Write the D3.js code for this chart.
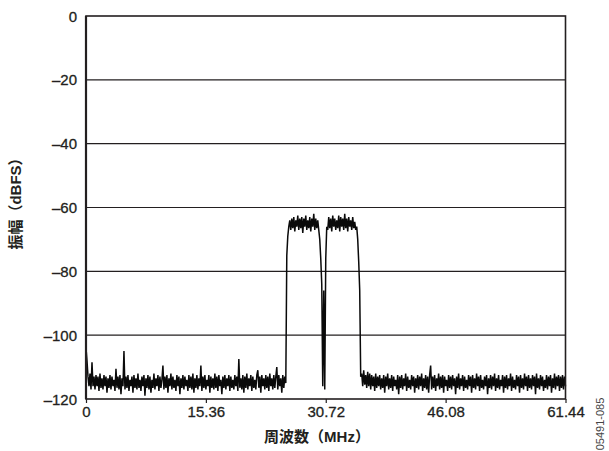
<!DOCTYPE html>
<html>
<head>
<meta charset="utf-8">
<script src="https://cdn.jsdelivr.net/npm/d3@7"></script>
<style>
  body { margin: 0; background: #fff; }
  text { fill: #231f20; }
</style>
</head>
<body>
<svg id="chart"></svg>
<script>
// axis ticks
var xTicks = [0, 15.36, 30.72, 46.08, 61.44];
var xTickLabels = ["0", "15.36", "30.72", "46.08", "61.44"];
var yTicks = [0, -20, -40, -60, -80, -100, -120];
var yTickLabels = ["0", "–20", "–40", "–60", "–80", "–100", "–120"];

// FFT bin width (MHz) and where each piece of the trace starts
var binMHz = 0.128;
var noiseLeftStart = 0;
var bandsStart = 25.728;
var noiseRightStart = 35.328;

// dBFS, one bin at a time
var noiseLeft = [
  -104, -108, -113, -116, -112, -117, -108.5, -116, -113, -117,
  -112.5, -116, -113, -117.5, -112, -116.5, -113.5, -117, -112.5, -116,
  -113, -118, -113.5, -116.5, -112.5, -117, -113, -116, -114, -117.5,
  -110.5, -116.5, -113, -117, -112.5, -118.5, -113.5, -116, -105, -117,
  -113, -116.5, -112.5, -117.5, -114, -116, -113, -118, -112.5, -116.5,
  -113.5, -117, -112, -116.5, -114, -117.5, -113, -116, -112.5, -119,
  -113.5, -116.5, -112.5, -117, -113, -118, -114, -116.5, -112, -117,
  -113.5, -116, -112.5, -117.5, -113, -116.5, -114, -109.5, -117, -113,
  -116.5, -112.5, -118, -113.5, -116, -112, -117, -113, -116.5, -114,
  -117.5, -112.5, -116, -113, -118.5, -113.5, -116.5, -112.5, -117, -113,
  -116, -114, -117.5, -112.5, -116.5, -113, -117, -112, -118, -113.5,
  -116.5, -112.5, -117, -113.5, -116, -109.5, -117.5, -113, -116.5, -112.5,
  -117, -114, -116, -112.5, -118, -113, -116.5, -113.5, -117, -112,
  -116.5, -113, -117.5, -112.5, -116, -114, -118.5, -113, -116.5, -112.5,
  -117, -113.5, -116, -112.5, -117.5, -113, -116.5, -114, -117, -112.5,
  -116, -113, -117.5, -107.5, -116.5, -113.5, -117, -112.5, -118, -113,
  -116.5, -112, -117, -113.5, -116, -112.5, -117.5, -113, -116.5, -114,
  -117, -112.5, -111, -116.5, -113, -118, -112.5, -116, -113.5, -117,
  -112.5, -116.5, -113, -117.5, -112, -116, -113.5, -117, -112.5, -116.5,
  -113, -110, -117, -112.5, -116, -113.5, -118, -112.5, -116.5, -113,
  -115
];

var bands = [
  -75, -69, -66, -64,
  -67, -63.5, -66.5, -63, -67.5, -64, -66, -62.5, -67, -63.5,
  -66.5, -63, -68, -63.5, -66, -62.5, -67, -64, -66.5, -63,
  -67.5, -63.5, -66, -62, -67, -63.5, -66.5, -64,
  -67, -70, -76, -84, -116, -86, -117, -76, -66,
  -67, -63, -66.5, -63.5, -67.5, -62.5, -66, -63.5, -67, -64,
  -66.5, -62.5, -67.5, -63, -66, -63.5, -67, -62, -66.5, -63.5,
  -67.5, -63, -66, -64, -67, -63, -66.5, -64.5, -67,
  -66, -70, -77, -86, -113
];

var noiseRight = [
  -112, -116, -111, -115.5, -112.5, -116.5, -111.5, -116, -112, -117,
  -112.5, -116, -113, -117.5, -112, -116.5, -113, -116, -112.5, -117,
  -113.5, -116.5, -112.5, -118, -113, -116, -112, -117, -113.5, -116.5,
  -112.5, -117.5, -113, -116, -114, -117, -112.5, -118.5, -113, -116.5,
  -112.5, -117, -113.5, -116, -112, -117.5, -113, -116.5, -114, -117,
  -112.5, -116, -113, -118, -113.5, -116.5, -112.5, -117, -113, -116,
  -112, -117.5, -113.5, -116.5, -112.5, -117, -113, -118, -112.5, -109.5,
  -117, -113, -116.5, -112.5, -117.5, -113.5, -116, -112, -117, -113,
  -116.5, -112.5, -118, -113, -116, -114, -117.5, -112.5, -116.5, -113,
  -117, -112.5, -116, -113.5, -118.5, -113, -116.5, -112, -117, -113.5,
  -116, -112.5, -117.5, -113, -116.5, -114, -117, -112.5, -116, -113,
  -118, -112.5, -116.5, -113.5, -117, -112, -116, -113, -117.5, -112.5,
  -116.5, -114, -117, -113, -116, -112.5, -118.5, -113.5, -116.5, -112.5,
  -117, -113, -116, -112, -117.5, -113.5, -116.5, -112.5, -117, -114,
  -116, -112.5, -118, -113, -116.5, -112.5, -117, -113.5, -116, -112,
  -117.5, -113, -116.5, -114, -117, -112.5, -116, -113, -118, -112.5,
  -116.5, -113.5, -117, -112, -116, -113, -117.5, -112.5, -116.5, -113.5,
  -117, -112.5, -116, -113, -118.5, -112, -116.5, -113.5, -117, -112.5,
  -116, -113, -117.5, -114, -116.5, -112.5, -117, -113, -116, -112.5,
  -118, -113.5, -116.5, -112, -117, -113, -116, -112.5, -117.5, -113,
  -116.5, -112.5, -117, -113, -116
];

var svgWidth = 609;
var svgHeight = 451;
var plotLeft = 86, plotRight = 565.5, plotTop = 16, plotBottom = 399;
var ink = "#231f20";

var svg = d3.select("#chart")
    .attr("width", svgWidth)
    .attr("height", svgHeight);

svg.append("rect")
    .attr("width", svgWidth)
    .attr("height", svgHeight)
    .attr("fill", "#fff");

var x = d3.scaleLinear().domain([0, 61.44]).range([plotLeft, plotRight]);
var y = d3.scaleLinear().domain([-120, 0]).range([plotBottom, plotTop]);

function piece(start, vals) {
  return vals.map(function(v, k) {
    return { f: start + k * binMHz, db: v };
  });
}

var trace = piece(noiseLeftStart, noiseLeft)
    .concat(piece(bandsStart, bands))
    .concat(piece(noiseRightStart, noiseRight));

// grid
svg.append("g")
    .selectAll("line")
    .data(yTicks.slice(1, -1))
    .enter()
    .append("line")
    .attr("x1", plotLeft)
    .attr("x2", plotRight)
    .attr("y1", function(d) { return y(d); })
    .attr("y2", function(d) { return y(d); })
    .attr("stroke", ink)
    .attr("stroke-width", 1.1);

// spectrum
svg.append("path")
    .datum(trace)
    .attr("fill", "none")
    .attr("stroke", "#0a0a0a")
    .attr("stroke-width", 1.5)
    .attr("stroke-linejoin", "miter")
    .attr("d", d3.line()
        .x(function(d) { return x(d.f); })
        .y(function(d) { return y(d.db); }));

// frame
svg.append("rect")
    .attr("x", plotLeft)
    .attr("y", plotTop)
    .attr("width", plotRight - plotLeft)
    .attr("height", plotBottom - plotTop)
    .attr("fill", "none")
    .attr("stroke", ink)
    .attr("stroke-width", 1.6);
svg.append("line")
    .attr("x1", plotLeft).attr("x2", plotLeft)
    .attr("y1", plotTop).attr("y2", plotBottom)
    .attr("stroke", ink)
    .attr("stroke-width", 2.2);

var xAxis = d3.axisBottom(x)
    .tickValues(xTicks)
    .tickSize(4)
    .tickPadding(3)
    .tickFormat(function(d, i) { return xTickLabels[i]; });

var gx = svg.append("g")
    .attr("transform", "translate(0," + plotBottom + ")")
    .call(xAxis);
gx.select(".domain").remove();
gx.selectAll("line").attr("stroke", ink).attr("stroke-width", 1.2);
gx.selectAll("text")
    .attr("fill", ink)
    .attr("stroke", ink)
    .attr("stroke-width", 0.3)
    .style("font-family", "'Liberation Sans', Arial, sans-serif")
    .style("font-size", "15px");

var yAxis = d3.axisLeft(y)
    .tickValues(yTicks)
    .tickSize(0)
    .tickPadding(9)
    .tickFormat(function(d, i) { return yTickLabels[i]; });

var gy = svg.append("g")
    .attr("transform", "translate(" + plotLeft + ",0)")
    .call(yAxis);
gy.select(".domain").remove();
gy.selectAll("text")
    .attr("fill", ink)
    .attr("stroke", ink)
    .attr("stroke-width", 0.3)
    .attr("dy", "0.34em")
    .style("font-family", "'Liberation Sans', Arial, sans-serif")
    .style("font-size", "15px");

svg.append("text")
    .attr("x", 317)
    .attr("y", 442)
    .attr("text-anchor", "middle")
    .style("font-family", "'Liberation Sans', 'Noto Sans CJK JP', sans-serif")
    .style("font-size", "15px")
    .style("font-weight", "bold")
    .text("周波数（MHz）");

svg.append("text")
    .attr("transform", "translate(21,200) rotate(-90)")
    .attr("text-anchor", "middle")
    .style("font-family", "'Liberation Sans', 'Noto Sans CJK JP', sans-serif")
    .style("font-size", "15px")
    .style("font-weight", "bold")
    .text("振幅（dBFS）");

svg.append("text")
    .attr("transform", "translate(604,424) rotate(-90)")
    .attr("text-anchor", "middle")
    .style("font-family", "'Liberation Sans', Arial, sans-serif")
    .style("font-size", "11px")
    .style("fill", "#444")
    .text("05491-085");
</script>
</body>
</html>
